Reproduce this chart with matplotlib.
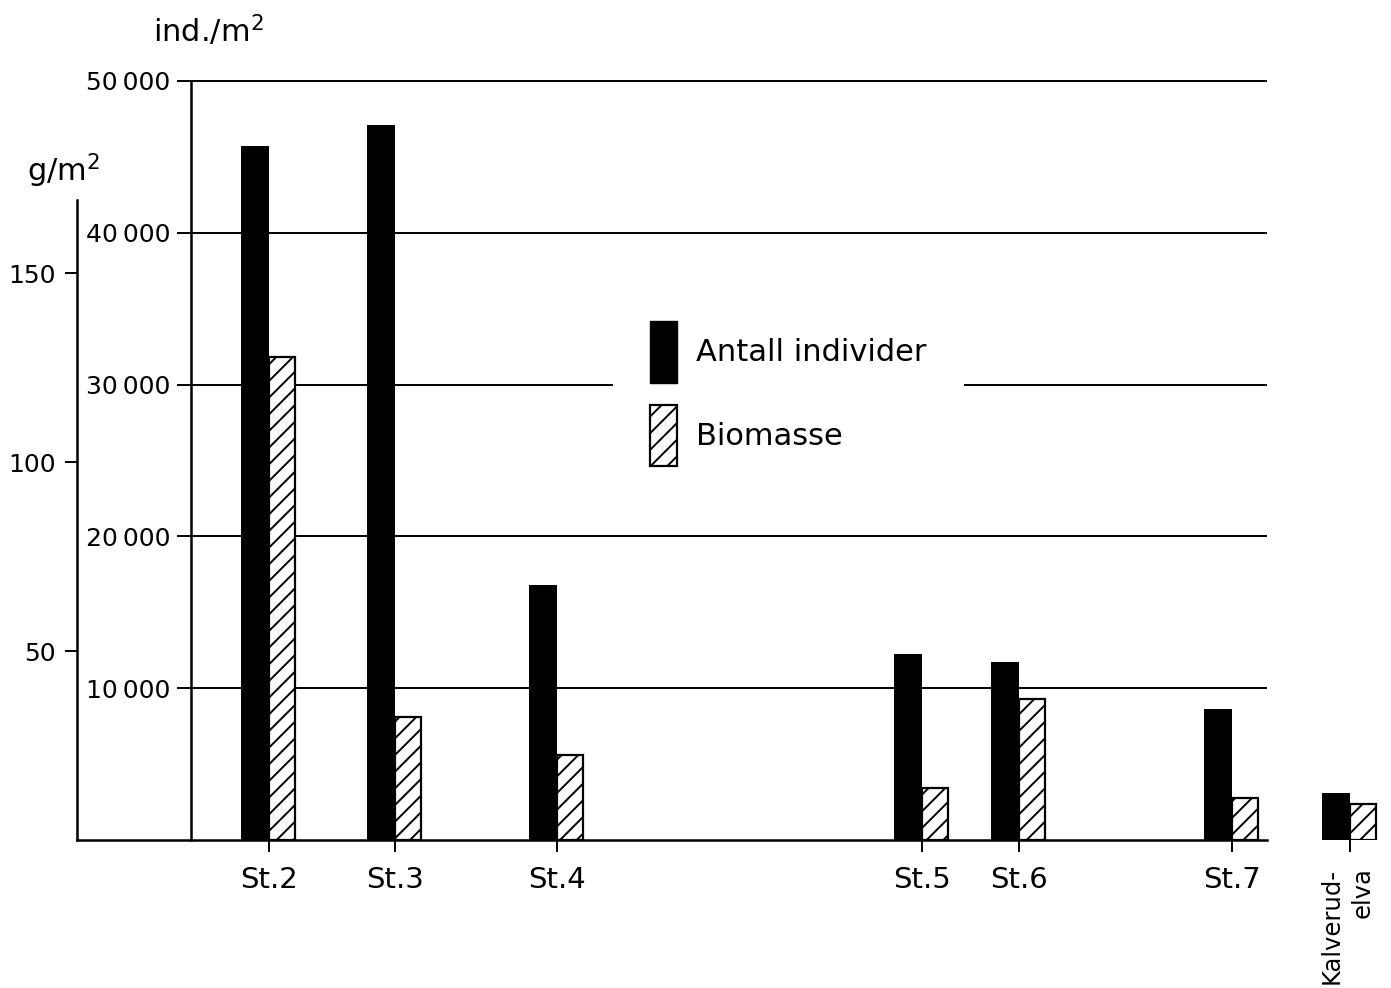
"""
Antall individer og biomasse av bunndyr pr. stasjon
"""

import matplotlib
matplotlib.use("Agg")
import matplotlib.pyplot as plt
from matplotlib.patches import Patch

plt.rcParams["font.family"] = "DejaVu Sans"
plt.rcParams["mathtext.fontset"] = "dejavusans"
plt.rcParams["hatch.linewidth"] = 1.4

# ── Data ─────────────────────────────────────────────────
stations = ["St.2", "St.3", "St.4", "St.5", "St.6", "St.7", "Kalverud-\nelva"]
individer = [45700, 47100, 16800, 12250, 11750, 8650, 3100]     # ind./m2
biomasse = [128, 32.6, 22.5, 13.8, 37.3, 11.2, 9.5]              # g/m2

ind_ticks = [10000, 20000, 30000, 40000, 50000]
ind_labels = ["10\u2009000", "20\u2009000", "30\u2009000", "40\u2009000", "50\u2009000"]
bio_ticks = [50, 100, 150]

# stasjonene ligger ikke med lik avstand langs elva
xpos = [78, 204, 366, 731, 828, 1041, 1159]

# ── Figur ────────────────────────────────────────────────
W, H = 1391, 988
fig = plt.figure(figsize=(W / 100, H / 100), dpi=100)

ax_n = fig.add_axes([191 / W, (H - 840) / H, (W - 191) / W, (840 - 81) / H])
ax_g = fig.add_axes([77 / W, (H - 840) / H, (W - 77) / W, (840 - 200) / H])
ax_g.set_zorder(ax_n.get_zorder() + 1)
ax_n.patch.set_visible(False)
ax_g.patch.set_visible(False)

ax_n.set_xlim(0, 1200)
ax_g.set_xlim(-114, 1200)
ax_n.set_ylim(0, 50000)
ax_g.set_ylim(0, 640 / 3.777)

# individer (svarte søyler)
ax_n.bar(xpos, individer, width=-28, align="edge", color="black", zorder=3)
# biomasse (skraverte søyler)
ax_g.bar(xpos, biomasse, width=26, align="edge", facecolor="white",
         edgecolor="black", hatch="//", linewidth=1.6, zorder=3)

# horisontale linjer
ax_n.hlines(ind_ticks, 0, 1076, color="black", linewidth=1.4, zorder=1, clip_on=False)

for sp in ["top", "right", "bottom"]:
    ax_n.spines[sp].set_visible(False)
ax_n.spines["left"].set_linewidth(1.8)
ax_n.set_xticks([])
ax_n.set_yticks(ind_ticks)
ax_n.set_yticklabels(ind_labels, fontsize=18)
ax_n.tick_params(axis="y", direction="out", length=10, width=1.4, pad=5)

for sp in ["top", "right"]:
    ax_g.spines[sp].set_visible(False)
ax_g.spines["left"].set_linewidth(1.8)
ax_g.spines["bottom"].set_linewidth(1.8)
ax_g.spines["bottom"].set_bounds(-114, 1076)
ax_g.set_yticks(bio_ticks)
ax_g.set_yticklabels([str(t) for t in bio_ticks], fontsize=18)
ax_g.tick_params(axis="y", direction="out", length=8.5, width=1.4, pad=7)
ax_g.set_xticks(xpos)
ax_g.set_xticklabels(stations[:-1] + [""], fontsize=21)
ax_g.tick_params(axis="x", direction="out", length=8.5, width=1.4, pad=10)

ax_g.text(xpos[-1] - 3, -0.043, stations[-1], transform=ax_g.get_xaxis_transform(),
          rotation=90, ha="center", va="top", multialignment="right",
          fontsize=17.5, linespacing=1.4)

# aksetitler
fig.text(153 / W, 1 - 42 / H, "ind./m$^2$", fontsize=22, va="baseline")
fig.text(27 / W, 1 - 181 / H, "g/m$^2$", fontsize=22, va="baseline")

# tegnforklaring
handles = [Patch(facecolor="black", edgecolor="black"),
           Patch(facecolor="white", edgecolor="black", hatch="//", linewidth=1.6)]
leg = ax_n.legend(handles, ["Antall individer", "Biomasse"],
                  loc="upper left", bbox_to_anchor=(613 / W, 1 - 284 / H),
                  bbox_transform=fig.transFigure, borderaxespad=0,
                  fontsize=22, handlelength=0.88, handleheight=2.74,
                  handletextpad=0.65, labelspacing=0.72, borderpad=1.2,
                  frameon=True, fancybox=False, framealpha=1)
leg.get_frame().set_facecolor("white")
leg.get_frame().set_edgecolor("none")
leg.set_zorder(5)

fig.savefig("out.png", dpi=100)
plt.close(fig)
